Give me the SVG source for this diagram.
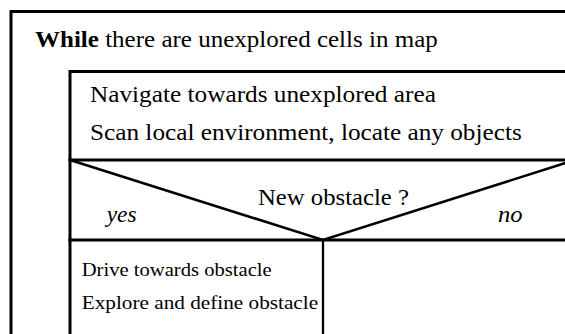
<svg xmlns="http://www.w3.org/2000/svg" width="565" height="334" viewBox="0 0 565 334">
  <style>
    .frame { fill: none; stroke: #000; stroke-width: 3; stroke-linecap: square; }
    .diag { fill: none; stroke: #000; stroke-width: 2.5; }
    .div { fill: none; stroke: #000; stroke-width: 2.3; }
    .big { font-family: "Liberation Serif", "Times New Roman", serif; font-size: 23px; fill: #000; }
    .small { font-family: "Liberation Serif", "Times New Roman", serif; font-size: 19px; fill: #000; }
    .it { font-style: italic; }
    .b { font-weight: bold; }
  </style>
  <rect x="0" y="0" width="565" height="334" fill="#fff"/>

  <g id="while-loop">
    <path class="frame" d="M11 340 V11.5 H580"/>
    <text class="big" transform="translate(35 46.7) scale(1.088 1)"><tspan class="b">While</tspan> there are unexplored cells in map</text>
  </g>

  <g id="process-block">
    <path class="frame" d="M70 340 V71.5 H580"/>
    <text class="big" transform="translate(90 101.7) scale(1.099 1)">Navigate towards unexplored area</text>
    <text class="big" transform="translate(90 140) scale(1.098 1)">Scan local environment, locate any objects</text>
  </g>

  <g id="decision">
    <path class="frame" d="M70 160 H580"/>
    <path class="frame" d="M70 240 H580"/>
    <path class="diag" d="M70 160 L323 240 L575 160"/>
    <text class="big" transform="translate(258 205) scale(1.075 1)">New obstacle ?</text>
    <text class="big it" transform="translate(106.7 221.7) scale(1.02 1)">yes</text>
    <text class="big it" transform="translate(498 221.7) scale(1.07 1)">no</text>
  </g>

  <g id="yes-branch">
    <path class="div" d="M323 240 V340"/>
    <text class="small" transform="translate(81.7 275.6) scale(1.085 1)">Drive towards obstacle</text>
    <text class="small" transform="translate(81.7 309.4) scale(1.118 1)">Explore and define obstacle</text>
  </g>

  <g id="no-branch"></g>
</svg>
